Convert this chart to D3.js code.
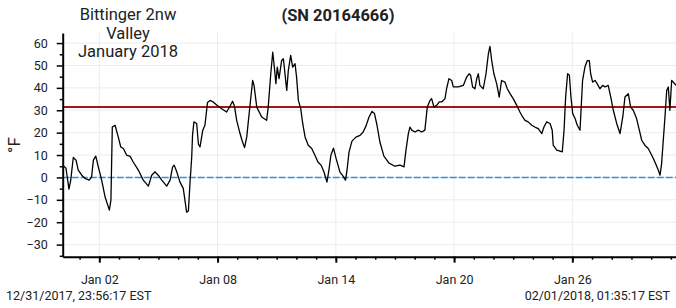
<!DOCTYPE html>
<html>
<head>
<meta charset="utf-8">
<script src="https://cdn.jsdelivr.net/npm/d3@7"></script>
<style>
  html, body { margin: 0; padding: 0; background: #fff; }
  svg { display: block; font-family: Roboto, "Noto Sans", sans-serif; }
</style>
</head>
<body>
<svg id="chart"></svg>
<script>
// days since 2018-01-01 00:00 (UTC) and logged temperature in °F
const dayOffsets = [-0.86,-0.69,-0.54,-0.45,-0.32,-0.18,-0.07,0.11,0.27,0.49,
  0.61,0.70,0.82,0.95,1.12,1.29,1.51,1.59,1.66,1.80,
  1.96,2.09,2.22,2.39,2.56,2.72,2.98,3.23,3.49,3.66,
  3.83,3.99,4.17,4.42,4.59,4.72,4.80,4.93,5.09,5.26,
  5.43,5.52,5.60,5.69,5.73,5.80,5.94,6.03,6.11,6.25,
  6.36,6.49,6.62,6.78,6.97,7.21,7.46,7.63,7.76,7.86,
  7.97,8.14,8.24,8.37,8.48,8.62,8.78,8.85,8.99,9.24,
  9.49,9.57,9.70,9.80,9.88,9.96,10.03,10.12,10.25,10.34,
  10.42,10.51,10.59,10.71,10.81,10.93,11.01,11.10,11.22,11.32,
  11.44,11.60,11.78,11.94,12.10,12.25,12.40,12.55,12.65,12.75,
  12.88,13.01,13.21,13.37,13.49,13.57,13.67,13.82,14.02,14.23,
  14.38,14.53,14.68,14.84,14.96,15.09,15.24,15.44,15.70,16.00,
  16.26,16.46,16.56,16.68,16.76,16.85,17.02,17.18,17.36,17.52,
  17.64,17.78,17.86,17.98,18.12,18.25,18.37,18.54,18.62,18.74,
  18.88,18.96,19.21,19.47,19.64,19.76,19.84,19.94,20.06,20.15,
  20.23,20.31,20.48,20.62,20.74,20.82,20.91,21.02,21.16,21.29,
  21.41,21.58,21.70,21.84,22.00,22.18,22.34,22.48,22.60,22.76,
  22.94,23.10,23.27,23.45,23.56,23.70,23.87,23.98,24.03,24.21,
  24.49,24.58,24.66,24.76,24.85,24.93,25.02,25.14,25.25,25.39,
  25.52,25.64,25.76,25.86,25.93,26.03,26.15,26.26,26.40,26.54,
  26.66,26.82,26.95,27.08,27.25,27.42,27.56,27.67,27.84,27.96,
  28.09,28.26,28.40,28.52,28.68,28.85,29.03,29.19,29.36,29.45,
  29.53,29.70,29.79,29.87,29.95,30.04,30.12,30.26];

const tempsF = [5.5,4.1,-5.2,-1.2,8.9,7.7,3.3,1.0,-0.4,-1.2,
  0.3,7.7,9.5,4.7,-1.2,-8.6,-14.6,-10.1,22.5,23.3,
  18.1,13.6,12.9,9.9,9.5,6.9,3.3,-1.2,-3.9,1.0,
  2.5,1.0,-1.2,-3.9,-1.2,4.7,5.5,2.5,-2.0,-4.9,
  -15.5,-15.0,-2.7,9.2,18.8,24.8,24.1,14.8,13.6,21.1,
  23.3,33.5,34.4,33.7,32.2,30.7,29.2,31.8,34.0,31.8,
  25.5,19.6,16.6,13.3,18.0,30.0,43.3,41.1,31.4,27.0,
  25.5,31.4,46.3,55.9,49.3,41.9,49.3,44.1,52.2,53.0,
  46.3,38.9,47.7,54.5,49.3,50.8,44.8,34.4,30.7,24.1,
  18.1,14.4,12.9,9.9,6.8,5.5,2.4,-2.1,3.3,9.9,
  13.1,8.6,2.4,0.6,-1.2,3.3,11.3,16.2,18.0,18.8,
  20.2,22.9,26.9,29.5,28.6,23.3,15.7,9.5,6.4,5.0,
  5.5,4.7,12.2,19.6,22.5,21.1,20.3,21.1,20.3,21.1,
  31.4,34.4,35.2,31.4,32.2,33.7,33.7,35.2,39.6,44.1,
  43.3,40.4,40.4,41.1,44.8,46.3,45.6,40.4,39.6,44.1,
  46.3,41.1,39.6,46.3,55.2,58.5,52.2,46.3,41.9,35.9,
  43.3,42.6,39.6,37.4,35.2,32.2,29.2,27.0,25.5,24.8,
  23.3,22.5,21.8,19.6,22.5,24.8,24.1,21.1,14.4,12.2,
  11.4,21.1,35.9,46.3,45.6,35.9,28.5,26.3,23.3,21.1,
  43.3,49.3,52.2,52.2,46.3,42.6,43.3,41.9,39.6,41.1,
  40.4,41.1,35.9,30.0,24.1,19.6,27.0,35.9,37.4,31.4,
  30.0,26.3,21.1,16.6,14.4,12.9,9.9,6.9,3.3,1.0,
  6.2,27.0,38.9,40.4,30.0,43.3,42.6,41.1];

const titleLines = ["Bittinger 2nw", "Valley", "January 2018"];
const serialText = "(SN 20164666)";
const startText = "12/31/2017, 23:56:17 EST";
const endText = "02/01/2018, 01:35:17 EST";
const yMajorTicks = [-30, -20, -10, 0, 10, 20, 30, 40, 50, 60];
const xMajorDays = [2, 8, 14, 20, 26];
const limitHigh = 31.5;
const limitLow = 0;

window.addEventListener('load', e => {
    drawChart();
});

function drawChart() {
    let width = 676;
    let height = 308;
    let left = 62.7, right = 676, top = 33, bottom = 256.7;

    let jan1 = Date.UTC(2018, 0, 1);
    let toDate = d => new Date(jan1 + d * 864e5);
    let data = dayOffsets.map((d, i) => ({ t: toDate(d), v: tempsF[i] }));

    let svg = d3.select("#chart")
        .attr("width", width)
        .attr("height", height);

    let xScale = d3.scaleUtc()
        .domain([toDate(-0.857), toDate(30.26)])
        .range([left, right]);

    let yScale = d3.scaleLinear()
        .domain([-35.4, 64.5])
        .range([bottom, top]);

    // grid
    svg.append("g")
        .selectAll("line")
        .data(yMajorTicks)
        .enter()
        .append("line")
        .attr("x1", left).attr("x2", right)
        .attr("y1", d => yScale(d)).attr("y2", d => yScale(d))
        .attr("stroke", "#ececec").attr("stroke-width", 1);

    let majorDates = xMajorDays.map(d => new Date(Date.UTC(2018, 0, d)));
    svg.append("g")
        .selectAll("line")
        .data(majorDates)
        .enter()
        .append("line")
        .attr("x1", d => xScale(d)).attr("x2", d => xScale(d))
        .attr("y1", top).attr("y2", bottom)
        .attr("stroke", "#ececec").attr("stroke-width", 1);

    // limit lines
    svg.append("line")
        .attr("x1", left).attr("x2", right)
        .attr("y1", yScale(limitLow)).attr("y2", yScale(limitLow))
        .attr("stroke", "#2b93e6").attr("stroke-width", 1.5)
        .attr("stroke-dasharray", "7,2");

    svg.append("line")
        .attr("x1", left).attr("x2", right)
        .attr("y1", yScale(limitHigh)).attr("y2", yScale(limitHigh))
        .attr("stroke", "#a51616").attr("stroke-width", 2);

    // temperature trace
    let line = d3.line()
        .x(d => xScale(d.t))
        .y(d => yScale(d.v));

    svg.append("path")
        .datum(data)
        .attr("d", line)
        .attr("fill", "none")
        .attr("stroke", "#000")
        .attr("stroke-width", 1.3)
        .attr("stroke-linejoin", "round");

    // axes
    let minorY = d3.range(-35, 65, 5).filter(v => v % 10 !== 0);
    svg.append("g")
        .attr("transform", "translate(" + left + ",0)")
        .call(d3.axisLeft(yScale).tickValues(minorY).tickSize(3).tickFormat(""))
        .call(g => g.select(".domain").remove())
        .call(g => g.selectAll("line").attr("stroke-width", 1.5));

    let yAxis = svg.append("g")
        .attr("transform", "translate(" + left + ",0)")
        .call(d3.axisLeft(yScale).tickValues(yMajorTicks).tickSize(6).tickSizeOuter(0).tickPadding(9));
    yAxis.select(".domain").attr("stroke-width", 2);
    yAxis.selectAll(".tick line").attr("stroke-width", 1.5);
    yAxis.selectAll("text").attr("font-size", "12.5px").attr("fill", "#222")
        .attr("font-family", "Roboto, sans-serif");

    let minorX = d3.utcDay.range(toDate(-0.857), toDate(30.27));
    svg.append("g")
        .attr("transform", "translate(0," + bottom + ")")
        .call(d3.axisBottom(xScale).tickValues(minorX).tickSize(3).tickFormat(""))
        .call(g => g.select(".domain").remove())
        .call(g => g.selectAll("line").attr("stroke-width", 1.5));

    let xAxis = svg.append("g")
        .attr("transform", "translate(0," + bottom + ")")
        .call(d3.axisBottom(xScale).tickValues(majorDates).tickSize(6).tickSizeOuter(0)
            .tickPadding(12).tickFormat(d3.utcFormat("%b %d")));
    xAxis.select(".domain").attr("stroke-width", 2);
    xAxis.selectAll(".tick line").attr("stroke-width", 2);
    xAxis.selectAll("text").attr("font-size", "12.5px").attr("fill", "#222")
        .attr("font-family", "Roboto, sans-serif");

    // titles
    svg.append("g")
        .selectAll("text")
        .data(titleLines)
        .enter()
        .append("text")
        .attr("x", 128)
        .attr("y", (d, i) => 20 + i * 18.7)
        .attr("text-anchor", "middle")
        .attr("font-size", "16.5px")
        .attr("fill", "#222")
        .text(d => d);

    svg.append("text")
        .attr("x", 338).attr("y", 21)
        .attr("text-anchor", "middle")
        .attr("font-size", "16.5px")
        .attr("font-weight", "bold")
        .attr("fill", "#222")
        .text(serialText);

    svg.append("text")
        .attr("transform", "translate(20,145) rotate(-90)")
        .attr("text-anchor", "middle")
        .attr("font-size", "17px")
        .attr("fill", "#222")
        .text("°F");

    svg.append("text")
        .attr("x", 6).attr("y", 299.5)
        .attr("font-size", "12.5px")
        .attr("fill", "#222")
        .text(startText);

    svg.append("text")
        .attr("x", 670).attr("y", 300)
        .attr("text-anchor", "end")
        .attr("font-size", "12.5px")
        .attr("fill", "#222")
        .text(endText);
}
</script>
</body>
</html>
